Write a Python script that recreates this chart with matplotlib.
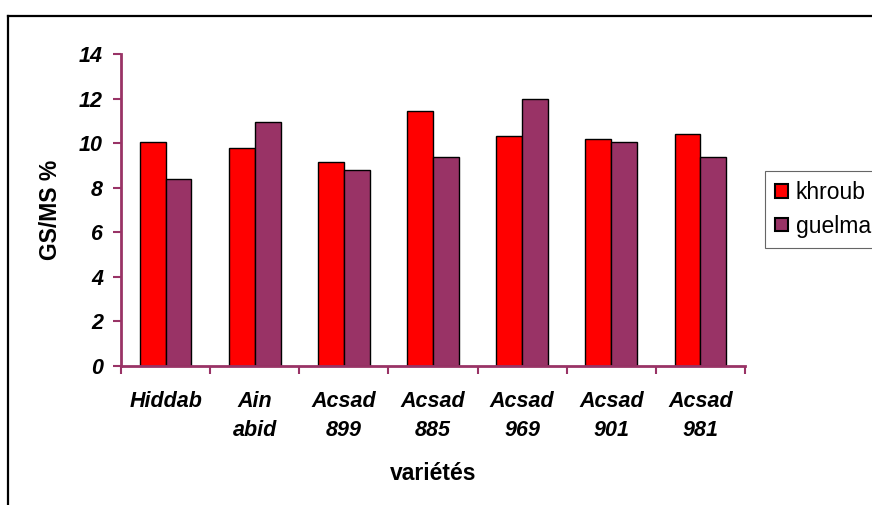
import numpy as np
import matplotlib

matplotlib.use("Agg")
import matplotlib.pyplot as plt
from matplotlib.lines import Line2D

varieties = ["Hiddab", "Ain\nabid", "Acsad\n899", "Acsad\n885", "Acsad\n969", "Acsad\n901", "Acsad\n981"]
khroub = [10.05, 9.8, 9.15, 11.45, 10.3, 10.2, 10.4]
guelma = [8.4, 10.95, 8.8, 9.4, 12.0, 10.05, 9.4]
series_names = ["khroub", "guelma"]
y_ticks = [0, 2, 4, 6, 8, 10, 12, 14]

axis_color = "#993366"
plt.rcParams["font.family"] = ["Liberation Sans", "DejaVu Sans"]

fig = plt.figure(figsize=(8.72, 5.05), dpi=100)
ax = fig.add_axes([121 / 872, 1 - 366 / 505, 624 / 872, 312 / 505])

x = np.arange(len(varieties))
width = 0.29
ax.bar(x - width / 2, khroub, width, color="#ff0000", edgecolor="black", linewidth=1.0, label=series_names[0])
ax.bar(x + width / 2, guelma, width, color="#993366", edgecolor="black", linewidth=1.0, label=series_names[1])

ax.set_xlim(-0.5, len(varieties) - 0.5)
ax.set_ylim(0, 14)
ax.set_yticks(y_ticks)
ax.set_yticklabels([str(v) for v in y_ticks], fontsize=15.5, fontweight="bold", fontstyle="italic")
ax.set_xticks(x)
ax.set_xticklabels(varieties, fontsize=15.5, fontweight="bold", fontstyle="italic", linespacing=1.5)
ax.set_xticks(np.arange(len(varieties) + 1) - 0.5, minor=True)
ax.tick_params(axis="x", which="major", length=0, pad=18)
ax.tick_params(axis="x", which="minor", length=6, width=1.5, color=axis_color, direction="out")
ax.tick_params(axis="y", length=6, width=1.5, color=axis_color, direction="out", pad=7)

for side in ("top", "right"):
    ax.spines[side].set_visible(False)
for side in ("left", "bottom"):
    ax.spines[side].set_color(axis_color)
    ax.spines[side].set_linewidth(2)

ax.set_ylabel("GS/MS %", fontsize=16.5, fontweight="bold")
ax.set_xlabel("variétés", fontsize=16.5, fontweight="bold", labelpad=15)
ax.yaxis.set_label_coords(-0.095, 0.5)

leg = ax.legend(loc="upper left", bbox_to_anchor=(765 / 872, 1 - 171 / 505), bbox_transform=fig.transFigure,
                fancybox=False, edgecolor="#404040", fontsize=16.5, handlelength=0.55, handleheight=0.55,
                handletextpad=0.35, borderpad=0.45, labelspacing=0.45, borderaxespad=0)
leg.get_frame().set_linewidth(0.8)
for handle in leg.legend_handles:
    handle.set_linewidth(1.5)

# outer chart frame (only left and top edges fall inside the canvas)
fig.add_artist(Line2D([8 / 872, 8 / 872], [0, 1 - 16 / 505], transform=fig.transFigure, color="black", linewidth=1.6))
fig.add_artist(Line2D([8 / 872, 1], [1 - 16 / 505, 1 - 16 / 505], transform=fig.transFigure, color="black", linewidth=1.6))

fig.savefig("out.png", dpi=100)
